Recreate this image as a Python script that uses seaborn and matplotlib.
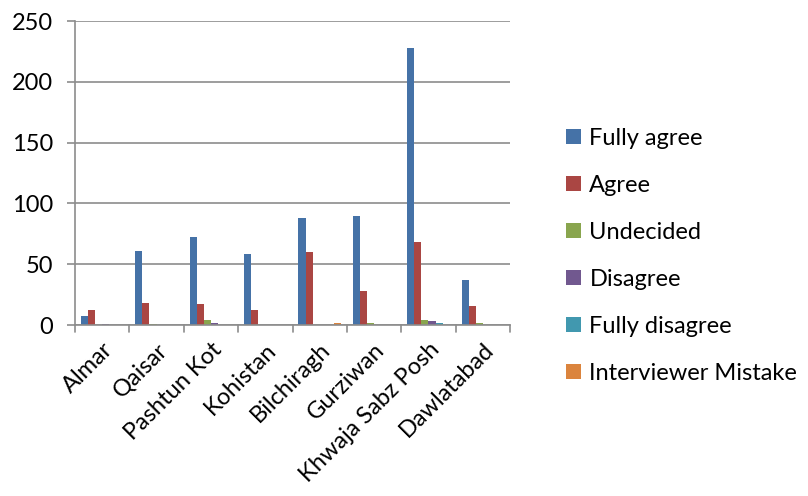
import matplotlib
matplotlib.use("Agg")
import matplotlib.pyplot as plt
import seaborn as sns
import pandas as pd
from matplotlib.patches import Patch

districts = ["Almar", "Qaisar", "Pashtun Kot", "Kohistan", "Bilchiragh",
             "Gurziwan", "Khwaja Sabz Posh", "Dawlatabad"]
responses = ["Fully agree", "Agree", "Undecided", "Disagree",
             "Fully disagree", "Interviewer Mistake"]

fully_agree = [7, 61, 72, 58, 88, 90, 228, 37]
agree = [12, 18, 17, 12, 60, 28, 68, 16]
undecided = [0, 1, 4, 0, 0, 2, 4, 2]
disagree = [1, 0, 2, 0, 0, 0, 3, 0]
fully_disagree = [0, 0, 0, 0, 0, 0, 2, 0]
interviewer_mistake = [0, 0, 0, 0, 2, 0, 0, 0]

colors = ["#4572A7", "#AA4643", "#89A54E", "#71588F", "#4198AF", "#DB843D"]

series = [fully_agree, agree, undecided, disagree, fully_disagree, interviewer_mistake]
rows = []
for name, vals in zip(responses, series):
    for d, v in zip(districts, vals):
        rows.append({"District": d, "Response": name, "Count": v})
df = pd.DataFrame(rows)

sns.set_style("white")
plt.rcParams["font.family"] = ["Lato", "DejaVu Sans"]
plt.rcParams["text.color"] = "black"
plt.rcParams["xtick.color"] = "black"
plt.rcParams["ytick.color"] = "black"

fig = plt.figure(figsize=(8.08, 4.96), dpi=100)
ax = fig.add_axes([75 / 808, 1 - 325 / 496, 435 / 808, 304 / 496])

sns.barplot(data=df, x="District", y="Count", hue="Response",
            order=districts, hue_order=responses, palette=colors,
            width=0.78, ax=ax, legend=False, errorbar=None,
            saturation=1, linewidth=0)

ax.set_ylim(0, 250)
ax.set_xlim(-0.5, len(districts) - 0.5)
ax.set_yticks(range(0, 251, 50))
ax.yaxis.grid(True, color="#8C8C8C", linewidth=1.2)
ax.set_axisbelow(True)
ax.set_xlabel("")
ax.set_ylabel("")

for s in ["top", "right"]:
    ax.spines[s].set_visible(False)
for s in ["left", "bottom"]:
    ax.spines[s].set_color("#8C8C8C")
    ax.spines[s].set_linewidth(1.2)

ax.tick_params(axis="y", length=6, width=1.2, color="#8C8C8C",
               labelsize=17, labelcolor="black", pad=10, direction="out",
               left=True)
ax.set_xticks(range(len(districts)))
ax.set_xticklabels(districts, rotation=45, ha="right", rotation_mode="anchor",
                   fontsize=17, color="black")
ax.tick_params(axis="x", length=0, pad=10)
# category separators below the axis
for i in range(len(districts) + 1):
    ax.plot([i - 0.5, i - 0.5], [0, -6], color="#8C8C8C", lw=1.2,
            clip_on=False, transform=ax.transData)

handles = [Patch(facecolor=c, edgecolor="none") for c in colors]
fig.legend(handles, responses, loc="center left",
           bbox_to_anchor=(545 / 808, 1 - 256 / 496), frameon=False,
           fontsize=17, handlelength=0.62, handleheight=0.62,
           handletextpad=0.36, labelspacing=1.1)

fig.savefig("out.png", dpi=100)
